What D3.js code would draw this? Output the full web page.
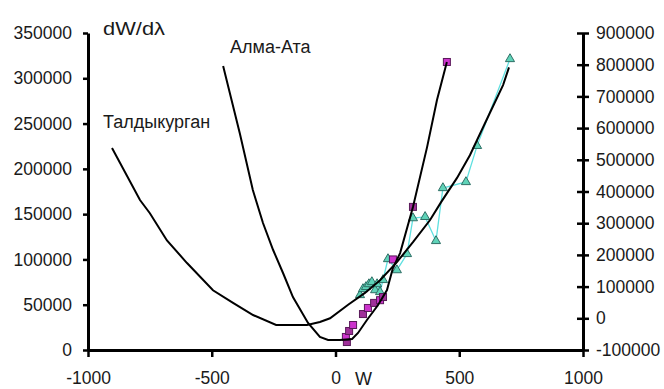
<!DOCTYPE html>
<html>
<head>
<meta charset="utf-8">
<script src="https://d3js.org/d3.v7.min.js"></script>
<style>
    body { margin: 0; background: #ffffff; }
    svg text { font-family: 'Liberation Sans', Arial, sans-serif; fill: #1a1a1a; }
</style>
</head>
<body>
<svg id="chart" width="664" height="389"></svg>
<script>
    // x tick values and axis ticks
    var xTicks = [-1000, -500, 0, 500, 1000];
    var leftTicks = [0, 50000, 100000, 150000, 200000, 250000, 300000, 350000];
    var rightTicks = [-100000, 0, 100000, 200000, 300000, 400000, 500000, 600000, 700000, 800000, 900000];

    // Алма-Ата fit curve (left axis)
    var almaW = [-454, -386, -334, -293, -252, -212, -172, -111, -63, -30, 18, 67, 91, 127, 172, 208, 232, 261, 313, 370, 410, 450];
    var almaV = [313500, 238500, 176600, 140200, 110400, 85000, 58500, 29800, 14400, 11000, 11000, 12100, 18800, 33100, 49700, 66200, 90500, 107000, 158000, 224000, 276000, 318000];

    // Талдыкурган fit curve (left axis)
    var taldW = [-903, -790, -750, -681, -600, -495, -414, -333, -240, -115, -63, -22, 51, 119, 180, 248, 313, 382, 426, 491, 543, 624, 677, 701];
    var taldV = [223000, 165600, 151000, 121000, 96000, 66000, 52000, 38600, 27600, 27600, 31000, 35000, 50000, 63000, 77000, 97000, 119000, 143500, 163000, 190000, 215000, 262000, 292500, 312000];

    // squares (left axis)
    var sqW = [46, 42, 55, 71, 111, 131, 156, 180, 192, 232, 313, 450];
    var sqV = [8800, 14400, 21000, 27600, 39700, 46400, 52000, 55000, 58500, 100000, 158000, 318000];

    // triangles (right axis), ordered by W
    var triW = [99, 111, 123, 135, 147, 160, 168, 180, 192, 212, 248, 289, 313, 362, 406, 434, 527, 572, 705];
    var triV = [73500, 92500, 99000, 108000, 114500, 89000, 108000, 83000, 121000, 187000, 152000, 203000, 316000, 320000, 244000, 411000, 430000, 544000, 818000];

    var svg = d3.select("#chart");

    var x = d3.scaleLinear().domain([-1000, 1000]).range([88, 583]);
    var yL = d3.scaleLinear().domain([0, 350000]).range([350, 33]);
    var yR = d3.scaleLinear().domain([-100000, 900000]).range([350, 33]);

    // plain hyphen for negatives, like the original
    var fmt = function (d) { return String(d); };

    var xAxis = d3.axisBottom(x).tickValues(xTicks).tickSizeInner(7).tickSizeOuter(0).tickPadding(15).tickFormat(fmt);
    var leftAxis = d3.axisLeft(yL).tickValues(leftTicks).tickSizeInner(5).tickSizeOuter(0).tickPadding(11).tickFormat(fmt);
    var rightAxis = d3.axisRight(yR).tickValues(rightTicks).tickSizeInner(6).tickSizeOuter(0).tickPadding(7).tickFormat(fmt);

    function styleAxis(g) {
        g.select(".domain").attr("stroke", "#000").attr("stroke-width", 3);
        g.selectAll(".tick line").attr("stroke", "#000").attr("stroke-width", 2.5);
        g.selectAll(".tick text").style("font-size", "17.5px").attr("fill", "#1a1a1a");
    }

    svg.append("g").attr("transform", "translate(0,350)").call(xAxis).call(styleAxis);
    svg.append("g").attr("transform", "translate(88,0)").call(leftAxis).call(styleAxis);
    var gR = svg.append("g").attr("transform", "translate(583,0)").call(rightAxis).call(styleAxis);
    // right ticks cross the axis
    gR.selectAll(".tick line").attr("x1", -6);

    // triangles line
    var triPts = triW.map(function (w, i) { return [x(w), yR(triV[i])]; });
    svg.append("path")
        .attr("d", d3.line()(triPts))
        .attr("fill", "none")
        .attr("stroke", "#5fe0e0")
        .attr("stroke-width", 1.3);

    svg.selectAll(".tri")
        .data(triPts)
        .enter()
        .append("path")
        .attr("class", "tri")
        .attr("d", d3.symbol().type(d3.symbolTriangle).size(36))
        .attr("transform", function (d) { return "translate(" + d[0] + "," + d[1] + ")"; })
        .attr("fill", "#5fd3b8")
        .attr("stroke", "#2f6f66")
        .attr("stroke-width", 1);

    var sqPts = sqW.map(function (w, i) { return [x(w), yL(sqV[i])]; });
    svg.selectAll(".sq")
        .data(sqPts)
        .enter()
        .append("rect")
        .attr("class", "sq")
        .attr("x", function (d) { return d[0] - 3.5; })
        .attr("y", function (d) { return d[1] - 3.5; })
        .attr("width", 7)
        .attr("height", 7)
        .attr("fill", function (d, i) { return i % 2 ? "#cc33cc" : "#a0309a"; })
        .attr("stroke", "#5a1a5a")
        .attr("stroke-width", 1);

    // fit curves
    var curveLine = d3.line();
    svg.append("path")
        .attr("d", curveLine(almaW.map(function (w, i) { return [x(w), yL(almaV[i])]; })))
        .attr("fill", "none")
        .attr("stroke", "#000")
        .attr("stroke-width", 2);
    svg.append("path")
        .attr("d", curveLine(taldW.map(function (w, i) { return [x(w), yL(taldV[i])]; })))
        .attr("fill", "none")
        .attr("stroke", "#000")
        .attr("stroke-width", 2);

    // labels
    svg.append("text").attr("x", 103).attr("y", 35).attr("textLength", 62).attr("lengthAdjust", "spacingAndGlyphs").style("font-size", "18px").text("dW/dλ");
    svg.append("text").attr("x", 230).attr("y", 53).style("font-size", "18px").text("Алма-Ата");
    svg.append("text").attr("x", 103).attr("y", 128).style("font-size", "18px").text("Талдыкурган");
    svg.append("text").attr("x", 355).attr("y", 385).style("font-size", "18px").text("W");
</script>
</body>
</html>
